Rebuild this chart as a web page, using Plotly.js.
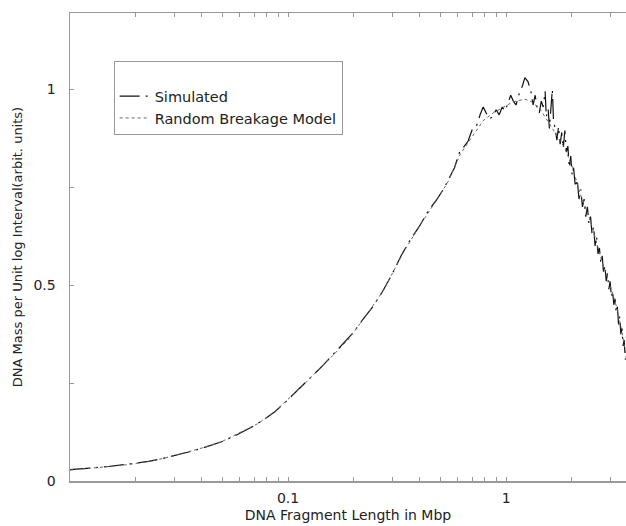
<!DOCTYPE html>
<html>
<head>
<meta charset="utf-8">
<script src="https://cdn.plot.ly/plotly-3.0.1.min.js"></script>
<style>html,body{margin:0;padding:0;background:#fff;overflow:hidden}#chart{width:626px;height:526px}</style>
</head>
<body>
<div id="chart"></div>
<script>
// Simulated fragment-length distribution (x in Mbp, y in arbitrary units)
var simX = [0.0100,0.0115,0.0130,0.0150,0.0175,0.0200,0.0230,0.0260,0.0300,0.0350,0.0400,0.0450,0.0500,0.0560,0.0630,0.0700,0.0780,0.0870,0.0950,0.1050,0.1150,0.1300,0.1450,0.1600,0.1800,0.2000,0.2200,0.2450,0.2700,0.3000,0.3300,0.3600,0.4000,0.4400,0.4800,0.5200,0.5500,0.5800,0.6100,0.6400,0.6700,0.7000,0.7300,0.7600,0.7850,0.8100,0.8400,0.8700,0.9000,0.9300,0.9600,0.9900,1.0200,1.0500,1.0800,1.1100,1.1500,1.1900,1.2200,1.2600,1.3000,1.3300,1.3600,1.3900,1.4200,1.4500,1.4800,1.5100,1.5300,1.5600,1.5800,1.6100,1.6300,1.6500,1.6800,1.7100,1.7400,1.7700,1.8000,1.8300,1.8600,1.8900,1.9200,1.9500,1.9800,2.0100,2.0400,2.0800,2.1200,2.1600,2.2000,2.2400,2.2800,2.3200,2.3600,2.4000,2.4400,2.4800,2.5200,2.5600,2.6000,2.6400,2.6800,2.7200,2.7600,2.8000,2.8400,2.8800,2.9200,2.9600,3.0000,3.0400,3.0800,3.1200,3.1600,3.2000,3.2400,3.2800,3.3200,3.3600,3.4000,3.4400,3.4800,3.5200,3.5600];
var simY = [0.029,0.031,0.034,0.037,0.041,0.045,0.050,0.056,0.064,0.074,0.083,0.092,0.101,0.113,0.128,0.141,0.158,0.177,0.196,0.219,0.240,0.270,0.296,0.322,0.352,0.380,0.412,0.445,0.482,0.528,0.575,0.612,0.650,0.690,0.718,0.748,0.775,0.800,0.838,0.855,0.868,0.898,0.905,0.935,0.955,0.940,0.925,0.930,0.948,0.935,0.955,0.945,0.965,0.985,0.970,0.960,0.990,1.010,1.030,1.020,0.995,0.960,0.985,0.950,0.940,0.970,0.955,0.995,0.930,0.950,0.900,0.960,1.000,0.920,0.900,0.870,0.905,0.860,0.890,0.850,0.895,0.840,0.855,0.800,0.830,0.780,0.800,0.750,0.770,0.720,0.745,0.700,0.720,0.675,0.700,0.655,0.675,0.630,0.650,0.600,0.625,0.580,0.595,0.555,0.575,0.530,0.550,0.510,0.530,0.490,0.510,0.470,0.485,0.450,0.465,0.430,0.445,0.400,0.420,0.375,0.390,0.345,0.360,0.310,0.320];
// Random breakage model curve
var modX = [0.0100,0.0126,0.0173,0.0207,0.0255,0.0315,0.0413,0.0494,0.0590,0.0730,0.0860,0.1010,0.1170,0.1570,0.1880,0.2320,0.2740,0.3390,0.4050,0.4840,0.5430,0.6170,0.7070,0.7850,0.8730,0.9690,1.0760,1.2200,1.3100,1.4300,1.5900,1.8600,2.0200,2.1800,2.4200,2.6000,2.7700,2.9800,3.2100,3.3900,3.5600];
var modY = [0.028,0.033,0.040,0.046,0.055,0.068,0.086,0.100,0.121,0.147,0.175,0.212,0.244,0.315,0.360,0.428,0.487,0.585,0.655,0.720,0.765,0.835,0.885,0.920,0.940,0.955,0.968,0.975,0.968,0.950,0.910,0.850,0.800,0.735,0.670,0.605,0.555,0.505,0.445,0.385,0.315];
var xTickVals = [0.02,0.03,0.04,0.05,0.06,0.07,0.08,0.09,0.1,0.2,0.3,0.4,0.5,0.6,0.7,0.8,0.9,1,2,3];
var xTickText = ['','','','','','','','','0.1','','','','','','','','','1','',''];
var yTickVals = [0,0.25,0.5,0.75,1];
var yTickText = ['0','','0.5','','1'];
var seriesNames = ['Simulated','Random Breakage Model'];

var FONT = 'DejaVu Sans, Liberation Sans, Arial, sans-serif';
var data = [
  {x: simX, y: simY, name: seriesNames[0], type: 'scatter', mode: 'lines',
   line: {color: '#111', width: 1.2, dash: '20px,6px,2px,6px'}},
  {x: modX, y: modY, name: seriesNames[1], type: 'scatter', mode: 'lines',
   line: {color: '#666', width: 1, dash: '3px,3px'}}
];
var layout = {
  width: 626, height: 526,
  margin: {l: 70, r: 0, t: 13, b: 45, pad: 0},
  paper_bgcolor: '#fff', plot_bgcolor: '#fff',
  font: {family: FONT, size: 14, color: '#222'},
  showlegend: true,
  legend: {x: 0.0785, y: 0.8975, xanchor: 'left', yanchor: 'top',
    bordercolor: '#999', borderwidth: 1, bgcolor: '#fff',
    font: {family: FONT, size: 14.5, color: '#222'},
    title: {text: ' ', font: {size: 14}}, tracegroupgap: 0},
  xaxis: {type: 'log', range: [-2, 0.55], showgrid: false, zeroline: false,
    showline: true, linecolor: '#999', linewidth: 1.5, mirror: 'ticks',
    ticks: 'inside', ticklen: 4, tickcolor: '#999', tickwidth: 1,
    tickmode: 'array', tickvals: xTickVals, ticktext: xTickText,
    ticklabelstandoff: 4,
    tickfont: {family: FONT, size: 14, color: '#222'},
    title: {text: 'DNA Fragment Length in Mbp', font: {family: FONT, size: 14, color: '#222'}, standoff: 5}},
  yaxis: {range: [0, 1.195], showgrid: false, zeroline: false,
    showline: true, linecolor: '#999', linewidth: 1.5, mirror: false,
    ticks: 'inside', ticklen: 4, tickcolor: '#999', tickwidth: 1,
    tickmode: 'array', tickvals: yTickVals, ticktext: yTickText,
    ticklabelstandoff: 10,
    tickfont: {family: FONT, size: 14, color: '#222'},
    title: {text: 'DNA Mass per Unit log Interval(arbit. units)', font: {family: FONT, size: 13, color: '#222'}, standoff: 8}}
};
Plotly.newPlot('chart', data, layout, {displayModeBar: false, staticPlot: true});
</script>
</body>
</html>
